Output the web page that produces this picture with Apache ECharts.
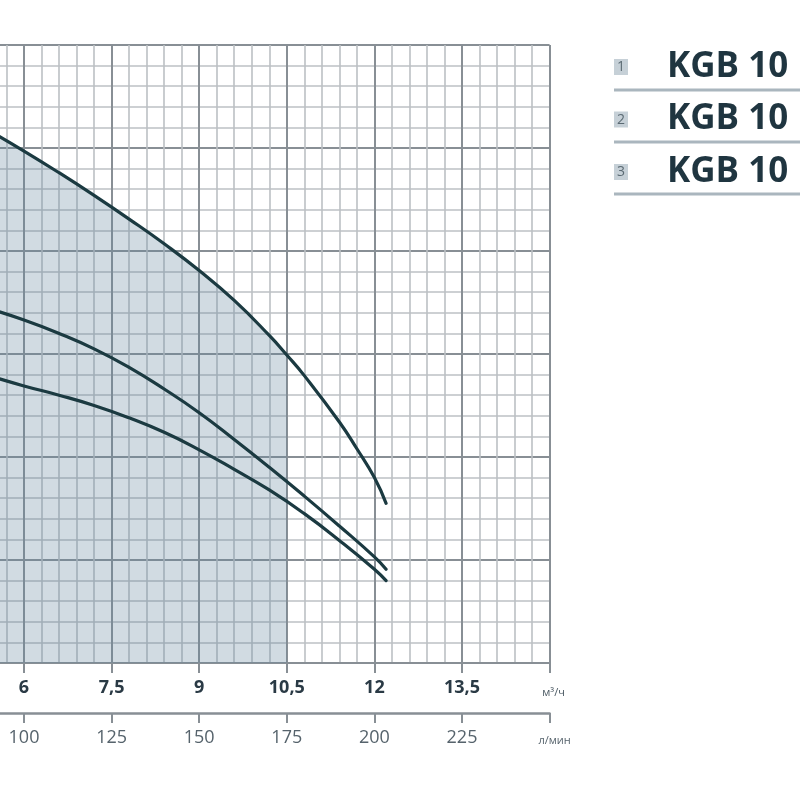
<!DOCTYPE html>
<html><head><meta charset="utf-8">
<script src="https://cdn.jsdelivr.net/npm/echarts@6/dist/echarts.min.js"></script>
<style>html,body{margin:0;padding:0;background:#fff}#c{width:800px;height:800px}</style>
</head><body><div id="c"></div>
<script>
// Flow (m³/h) and head readings for each pump curve
const flow1 = [5.4, 6, 6.6, 7.2, 7.8, 8.4, 9, 9.6, 10.2, 10.5, 10.8, 11.4, 11.7, 12, 12.2];
const head1 = [51.7, 49.7, 47.6, 45.4, 43.1, 40.7, 38.1, 35.2, 31.8, 29.9, 27.9, 23.4, 20.8, 18.0, 15.5];
const flow2 = [5.4, 6, 6.6, 7.2, 7.8, 8.4, 9, 9.6, 10.2, 10.8, 11.4, 12, 12.2];
const head2 = [34.4, 33.3, 32.0, 30.5, 28.7, 26.6, 24.3, 21.7, 19.0, 16.2, 13.3, 10.3, 9.1];
const flow3 = [5.4, 6, 6.6, 7.2, 7.8, 8.4, 9, 9.6, 10.2, 10.8, 11.4, 12, 12.2];
const head3 = [27.9, 26.9, 26.0, 25.0, 23.8, 22.4, 20.7, 18.8, 16.8, 14.5, 11.9, 9.1, 8.0];
const workLimit = 10.5;            // shaded working range ends here (m³/h)
const unitM3h = 'м³/ч';
const unitLmin = 'л/мин';
const legendNums = ['1', '2', '3'];
const legendNames = ['KGB 10', 'KGB 10', 'KGB 10'];

const pairs = (xs, ys) => xs.map((x, i) => [x, ys[i]]);
const shade = pairs(flow1, head1).filter(p => p[0] <= workLimit);

const major = '#888f95', minor = '#bcc0c4', curveColor = '#1b3a41';
const chart = echarts.init(document.getElementById('c'), null, {renderer: 'canvas'});

const graphics = [];
legendNums.forEach((n, i) => {
  const dy = i * 52.5;
  graphics.push({type: 'rect', shape: {x: 614, y: 59 + dy, width: 14, height: 16}, style: {fill: '#c6d0d7'}});
  graphics.push({type: 'text', style: {text: n, x: 621, y: 67.5 + dy, font: '14px "Open Sans"', fill: '#5b6a73',
    align: 'center', verticalAlign: 'middle', textAlign: 'center', textVerticalAlign: 'middle'}});
  graphics.push({type: 'text', style: {text: legendNames[i], x: 667, y: 67 + dy, font: 'bold 35px "Open Sans"', fill: '#1f3540',
    align: 'left', verticalAlign: 'middle', textAlign: 'left', textVerticalAlign: 'middle'}});
  graphics.push({type: 'line', shape: {x1: 614, y1: 90 + 52 * i, x2: 800, y2: 90 + 52 * i}, style: {stroke: '#aab6be', lineWidth: 3}});
});

const curve = (data, name) => ({
  type: 'line', name, data, smooth: 0.5, symbol: 'none', z: 5,
  lineStyle: {color: curveColor, width: 3.2, cap: 'round'}
});

chart.setOption({
  animation: false,
  grid: {left: -326.4, right: 250.4, top: 45, bottom: 137, containLabel: false, outerBoundsMode: 'none'},
  xAxis: [{
    type: 'value', min: 0, max: 15, interval: 1.5, position: 'bottom',
    axisLine: {show: true, lineStyle: {color: major, width: 2}},
    axisTick: {show: true, length: 10, lineStyle: {color: major, width: 2}},
    minorTick: {show: false, splitNumber: 5},
    splitLine: {show: true, lineStyle: {color: major, width: 2}},
    minorSplitLine: {show: true, lineStyle: {color: minor, width: 1.6}},
    axisLabel: {
      margin: 16, fontFamily: 'Open Sans', fontSize: 18, fontWeight: 'bold', color: '#2a3a45',
      formatter: v => v === 15 ? '{u|' + unitM3h + '}' : String(v).replace('.', ','),
      rich: {u: {fontSize: 11, fontWeight: 'normal', color: '#4a5862', padding: [8, 0, 0, 8]}}
    }
  }, {
    type: 'value', min: 0, max: 250, interval: 25, position: 'bottom', offset: 50,
    axisLine: {show: true, lineStyle: {color: major, width: 2.5}},
    axisTick: {show: true, length: 10, lineStyle: {color: major, width: 2}},
    splitLine: {show: false},
    axisLabel: {
      margin: 16, fontFamily: 'Open Sans', fontSize: 18, color: '#56636c',
      formatter: v => v === 250 ? '{u|' + unitLmin + '}' : String(v),
      rich: {u: {fontSize: 11, color: '#56636c', padding: [6, 0, 0, 10]}}
    }
  }],
  yAxis: {
    type: 'value', min: 0, max: 60, interval: 10,
    axisLine: {show: false}, axisTick: {show: false}, axisLabel: {show: false},
    minorTick: {show: false, splitNumber: 5},
    splitLine: {show: true, lineStyle: {color: major, width: 2}},
    minorSplitLine: {show: true, lineStyle: {color: minor, width: 1.6}}
  },
  graphic: graphics,
  series: [
    {type: 'line', data: shade, smooth: 0.5, symbol: 'none', z: 2,
     lineStyle: {width: 0}, areaStyle: {color: 'rgba(100,132,156,0.42)', origin: 'start'}},
    curve(pairs(flow1, head1), '1'),
    curve(pairs(flow2, head2), '2'),
    curve(pairs(flow3, head3), '3')
  ]
});
</script></body></html>
